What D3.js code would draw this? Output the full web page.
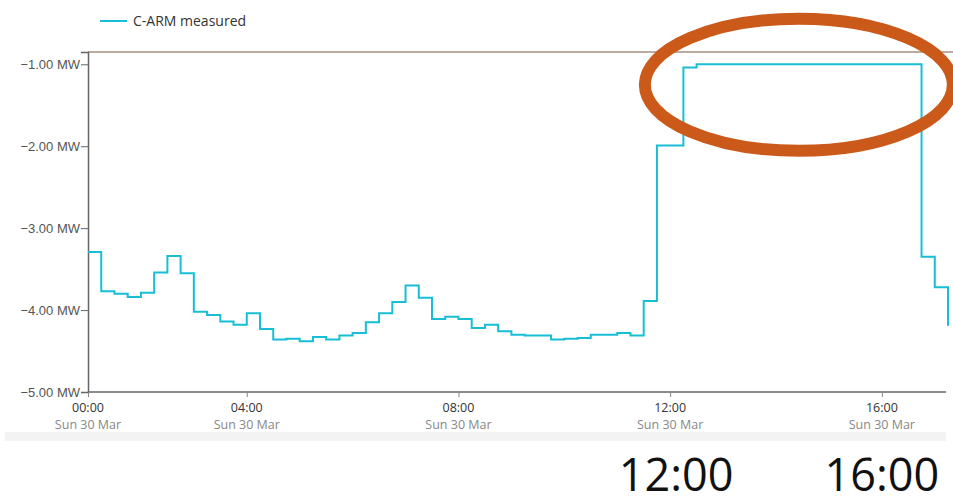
<!DOCTYPE html>
<html>
<head>
<meta charset="utf-8">
<script src="https://cdnjs.cloudflare.com/ajax/libs/d3/7.8.5/d3.min.js"></script>
<style>
  body { margin: 0; background: #fff; }
  #power_plot svg { display: block; font-family: "Open Sans", "Noto Sans", sans-serif; }
</style>
</head>
<body>
<div id="power_plot"></div>
<script>
// measured power, one value per 15 minutes (MW)
var seriesName  = "C-ARM measured";
var startUtc    = "2025-03-29T23:00:00Z";   // 00:00 local, Sun 30 Mar (DST day)
var measuredMW  = [
	-3.29, -3.77, -3.80, -3.84, -3.79, -3.54, -3.34, -3.55,
	-4.02, -4.06, -4.14, -4.18, -4.04, -4.23, -4.36, -4.35,
	-4.38, -4.33, -4.36, -4.31, -4.28, -4.15, -4.04, -3.90,
	-3.70, -3.85, -4.11, -4.08, -4.11, -4.22, -4.18, -4.26,
	-4.30, -4.31, -4.31, -4.36, -4.35, -4.34, -4.30, -4.30,
	-4.28, -4.31, -3.89, -1.99, -1.99, -1.04, -1.00, -1.00,
	-1.00, -1.00, -1.00, -1.00, -1.00, -1.00, -1.00, -1.00,
	-1.00, -1.00, -1.00, -1.00, -1.00, -1.00, -1.00, -3.35,
	-3.72, -4.19
];
var tickTimesUtc   = ["2025-03-29T23:00:00Z", "2025-03-30T02:00:00Z", "2025-03-30T06:00:00Z",
                      "2025-03-30T10:00:00Z", "2025-03-30T14:00:00Z"];
var tickTimeLabels = ["00:00", "04:00", "08:00", "12:00", "16:00"];
var tickDateLabels = ["Sun 30 Mar", "Sun 30 Mar", "Sun 30 Mar", "Sun 30 Mar", "Sun 30 Mar"];
var yTickValues    = [-1, -2, -3, -4, -5];
var yDomain        = [-5, -0.85];
var bigLabelIdx    = [3, 4];   // ticks repeated large under the chart

var PowerPlot = function(options){
	this.opt = {'target': 'power_plot', 'width': 953, 'height': 504};
	Object.assign(this.opt, options);
	this.setupData();
	this.setupSVG();
	this.renderAxes();
	this.renderLine();
	this.renderLegend();
	this.renderAnnotation();
};

PowerPlot.prototype.setupData = function(){
	var t0 = new Date(startUtc);
	var times = d3.utcMinute.every(15).range(t0, d3.utcMinute.offset(t0, 15 * measuredMW.length));
	this.data = measuredMW.map(function(v, i){ return {time: times[i], mw: v}; });
	this.ticks = tickTimesUtc.map(function(t, i){
		return {time: new Date(t), label: tickTimeLabels[i], date: tickDateLabels[i]};
	});
};

PowerPlot.prototype.setupSVG = function(){
	this.margin = {top: 52, right: 5, bottom: 112, left: 88};
	this.x = d3.scaleUtc()
		.domain(d3.extent(this.data, function(d){ return d.time; }))
		.range([this.margin.left, this.opt.width - this.margin.right]);
	this.y = d3.scaleLinear()
		.domain(yDomain)
		.range([this.opt.height - this.margin.bottom, this.margin.top]);
	this.svg = d3.select("#" + this.opt.target).append("svg")
		.attr("width", this.opt.width)
		.attr("height", this.opt.height);
};

PowerPlot.prototype.renderAxes = function(){
	var self = this;
	var y0 = this.y.range()[0];

	// light band under the date labels
	this.svg.append("rect")
		.attr("x", 5).attr("y", y0 + 40)
		.attr("width", 941).attr("height", 9)
		.attr("fill", "#f3f3f3");

	// upper limit line
	this.svg.append("line")
		.attr("x1", this.x.range()[0]).attr("x2", this.opt.width)
		.attr("y1", this.y(yDomain[1])).attr("y2", this.y(yDomain[1]))
		.attr("stroke", "#bcaaa3").attr("stroke-width", 2);

	var yAxis = d3.axisLeft(this.y).tickValues(yTickValues).tickSize(7).tickPadding(1)
		.tickFormat(function(d){ return d3.format(".2f")(d) + " MW"; });
	var gy = this.svg.append("g")
		.attr("transform", "translate(" + this.x.range()[0] + ",0)")
		.call(yAxis);
	gy.select(".domain").attr("stroke", "#666").attr("stroke-width", 1.5);
	gy.selectAll(".tick line").attr("stroke", "#666");
	gy.selectAll(".tick text").attr("fill", "#555").style("font-size", "13px");

	var xAxis = d3.axisBottom(this.x)
		.tickValues(this.ticks.map(function(d){ return d.time; }))
		.tickSize(5).tickSizeOuter(0).tickFormat("");
	var gx = this.svg.append("g")
		.attr("transform", "translate(0," + y0 + ")")
		.call(xAxis);
	gx.select(".domain").attr("stroke", "#666").attr("stroke-width", 1.5)
		.attr("d", "M" + this.x.range()[0] + ",0H946");
	gx.selectAll(".tick line").attr("stroke", "#888");

	var lab = this.svg.append("g").selectAll("g")
		.data(this.ticks).enter().append("g")
		.attr("transform", function(d){ return "translate(" + self.x(d.time) + "," + y0 + ")"; })
		.attr("text-anchor", "middle")
		.style("font-size", "12.5px");
	lab.append("text").attr("y", 20).attr("fill", "#333").text(function(d){ return d.label; });
	lab.append("text").attr("y", 37).attr("fill", "#888").text(function(d){ return d.date; });

	// large repeat of the last two ticks
	this.svg.append("g").selectAll("text")
		.data(bigLabelIdx.map(function(i){ return self.ticks[i]; }))
		.enter().append("text")
		.attr("x", function(d){ return self.x(d.time) + (d.label == "12:00" ? 6 : 0); })
		.attr("y", 491)
		.attr("text-anchor", "middle")
		.attr("fill", "#111")
		.style("font-size", "45px")
		.text(function(d){ return d.label; });
};

PowerPlot.prototype.renderLine = function(){
	var self = this;
	var line = d3.line()
		.x(function(d){ return self.x(d.time); })
		.y(function(d){ return self.y(d.mw); })
		.curve(d3.curveStepAfter);
	this.svg.append("path")
		.datum(this.data)
		.attr("fill", "none")
		.attr("stroke", "#17bed6")
		.attr("stroke-width", 2)
		.attr("d", line);
};

PowerPlot.prototype.renderLegend = function(){
	var g = this.svg.append("g").attr("transform", "translate(100,21)");
	g.append("line").attr("x1", 0).attr("x2", 27)
		.attr("stroke", "#17bed6").attr("stroke-width", 2);
	g.append("text").attr("x", 33).attr("dy", "0.35em")
		.attr("fill", "#333").style("font-size", "14px")
		.text(seriesName);
};

PowerPlot.prototype.renderAnnotation = function(){
	// orange ring round the plateau at -1.00 MW
	var plateau = this.data.filter(function(d){ return d.mw > -1.05; });
	var xa = this.x(plateau[0].time), xb = this.x(plateau[plateau.length - 1].time);
	this.svg.append("ellipse")
		.attr("cx", (xa + xb) / 2 + 3)
		.attr("cy", this.y(-1.25))
		.attr("rx", 154).attr("ry", 66)
		.attr("fill", "none")
		.attr("stroke", "#cb5a1a")
		.attr("stroke-width", 12);
};

new PowerPlot({});
</script>
</body>
</html>
